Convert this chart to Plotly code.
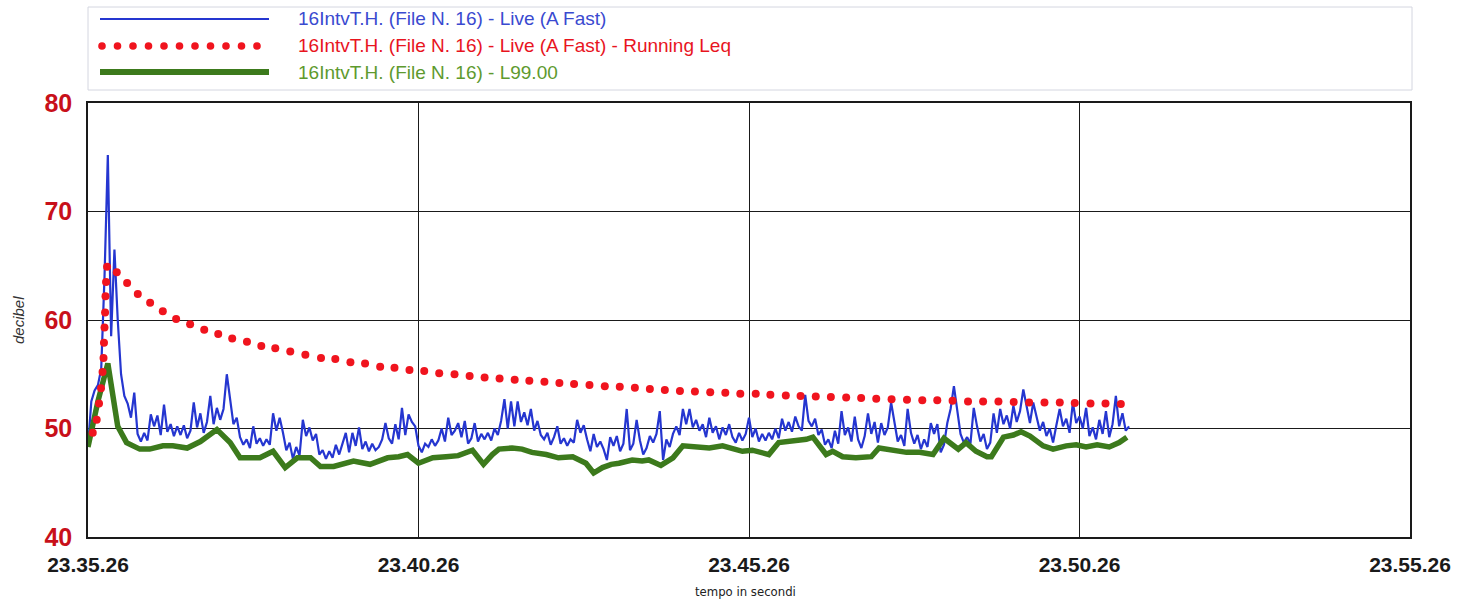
import plotly.graph_objects as go

# Colori
BLU = '#2536d0'
ROSSO = '#f0141e'
VERDE = '#3c7a1c'

# Asse x: secondi dall'inizio (23.35.26)
tick_sec = [0, 300, 600, 900, 1200]
tick_lbl = ['23.35.26', '23.40.26', '23.45.26', '23.50.26', '23.55.26']

# Live (A Fast), un campione ogni 3 s
passo_live = 3
live_db = [
    48.3, 52.5, 53.5, 54.0, 55.5, 64.0, 75.2, 58.5, 66.5, 60.0, 55.0, 53.0, 52.3, 51.0, 53.3, 49.5,
    48.8, 49.6, 48.9, 51.3, 50.2, 51.2, 49.4, 52.2, 49.7, 50.4, 49.3, 50.2, 49.4, 50.3, 49.1, 49.8,
    52.4, 50.1, 51.4, 49.6, 50.6, 53.0, 50.4, 51.9, 50.8, 51.8, 55.0, 52.5, 50.4, 51.0, 49.2, 48.5,
    49.0, 48.2, 50.2, 48.6, 49.1, 48.4, 49.0, 48.5, 51.4, 49.8, 51.0, 49.6, 48.0, 48.7, 47.2, 48.3,
    47.5, 50.8, 49.3, 50.1, 48.9, 49.5, 47.6, 48.0, 47.2, 47.9, 47.3, 48.5, 47.6, 48.6, 49.6, 47.8,
    49.6, 48.4, 50.1, 48.1, 48.8, 47.9, 48.6, 48.0, 48.3, 49.0, 50.5, 49.1, 48.6, 50.4, 49.0, 51.9,
    49.4, 51.3, 50.6, 50.2, 48.4, 47.8, 48.6, 48.3, 49.0, 48.4, 48.9, 50.0, 48.8, 51.0, 49.4, 49.8,
    50.5, 49.2, 50.7, 48.6, 49.1, 50.5, 48.8, 49.5, 49.0, 49.6, 48.9, 50.0, 49.4, 50.7, 52.7, 50.0,
    52.5, 50.2, 52.5, 50.6, 51.5, 50.3, 51.8, 49.8, 50.7, 49.4, 49.0, 49.6, 48.5, 49.2, 50.2, 48.6,
    49.1, 48.4, 49.0, 48.7, 50.8, 49.6, 50.3, 49.0, 47.9, 49.5, 48.3, 48.8, 48.1, 47.1, 49.2, 48.4,
    49.3, 47.9, 48.6, 51.8, 48.0, 48.6, 50.8, 48.9, 47.6, 48.2, 49.3, 48.7, 49.5, 51.6, 47.1, 49.0,
    48.3, 49.5, 50.2, 49.4, 51.8, 50.4, 51.8, 50.1, 50.8, 49.8, 50.4, 49.2, 51.0, 49.6, 50.2, 49.0,
    50.1, 49.4, 50.4, 49.2, 48.7, 49.6, 48.9, 49.5, 51.0, 49.2, 50.0, 48.8, 49.5, 48.9, 49.6, 49.0,
    50.0, 49.1, 50.9, 49.8, 50.6, 49.7, 51.1, 50.2, 49.8, 53.1, 50.7, 50.2, 50.9, 49.4, 49.9, 48.5,
    49.0, 48.2, 49.8, 48.6, 51.6, 49.4, 50.1, 48.8, 51.1, 49.0, 48.2, 49.3, 51.4, 49.5, 50.6, 48.7,
    50.5, 49.4, 50.1, 52.4, 50.6, 48.8, 49.4, 48.4, 51.8, 49.6, 48.6, 49.4, 48.1, 49.0, 48.3, 50.5,
    49.5, 50.4, 47.8, 48.5, 50.5, 51.8, 53.9, 51.6, 49.5, 48.7, 49.2, 48.6, 51.9, 50.2, 48.8, 49.5,
    48.1, 48.7, 51.4, 49.6, 51.8, 50.4, 51.2, 50.0, 52.1, 50.6, 51.6, 53.6, 51.9, 50.5, 52.4, 51.0,
    49.8, 50.6, 49.3, 50.0, 48.7, 50.3, 51.8, 50.2, 50.9, 49.6, 52.4, 50.5, 51.1, 50.0, 51.9, 49.3,
    50.1, 49.0, 50.8, 49.5, 51.6, 49.2, 50.4, 53.0, 50.2, 51.4, 49.8, 50.2,
]
live_sec = [passo_live * i for i in range(len(live_db))]

# Running Leq
leq_sec = [
    4.3, 7.9, 10.0, 11.8, 13.2, 14.1, 14.5, 15.0, 15.5, 15.9, 16.4, 17.3, 26.1, 35.5, 45.2, 56.4,
    67.9, 80.0, 92.7, 105.5, 118.2, 130.9, 144.3, 157.3, 170.0, 183.6, 197.3, 211.5, 224.5, 238.2,
    251.5, 265.2, 278.2, 291.8, 305.2, 318.8, 332.7, 346.4, 360.0, 373.6, 387.3, 400.6, 414.3,
    427.9, 441.2, 455.2, 469.1, 482.7, 496.4, 510.0, 523.6, 537.3, 550.9, 564.8, 578.5, 592.1,
    606.1, 619.4, 633.4, 646.8, 660.6, 674.3, 688.2, 701.8, 715.5, 729.4, 743.4, 757.3, 770.9,
    784.8, 798.8, 812.5, 826.4, 840.3, 854.3, 868.2, 882.1, 895.7, 910.0, 923.6, 937.5,
]
leq_db = [
    49.6, 50.8, 52.3, 53.7, 55.2, 56.5, 57.9, 59.3, 60.7, 62.2, 63.5, 64.9, 64.4, 63.4, 62.4, 61.6,
    60.8, 60.1, 59.6, 59.1, 58.7, 58.3, 58.0, 57.6, 57.4, 57.1, 56.8, 56.5, 56.4, 56.1,
    56.0, 55.7, 55.6, 55.4, 55.3, 55.1, 55.0, 54.85, 54.7, 54.6, 54.5, 54.4, 54.3,
    54.2, 54.1, 54.0, 53.9, 53.85, 53.75, 53.65, 53.55, 53.45, 53.4, 53.35, 53.3, 53.2,
    53.2, 53.1, 53.05, 53.0, 52.95, 52.9, 52.85, 52.8, 52.75, 52.7, 52.65, 52.6, 52.6,
    52.55, 52.5, 52.5, 52.5, 52.45, 52.4, 52.4, 52.4, 52.35, 52.3, 52.3, 52.25,
]

# L99.00
l99_sec = [
    0, 9, 18, 27, 35, 47, 56, 68, 77, 90, 102, 117, 129, 138, 156, 168, 179, 190, 202, 211,
    223, 241, 256, 272, 282, 290, 300, 313, 325, 336, 349, 359, 367, 373, 385, 394, 403, 416,
    427, 440, 452, 459, 467, 475, 482, 494, 503, 509, 520, 531, 540, 552, 564, 576, 585, 594,
    603, 613, 618, 627, 640, 652, 658, 664, 670, 676, 685, 697, 711, 718, 731, 743, 755, 767,
    777, 784, 790, 797, 806, 816, 820, 831, 840, 847, 855, 867, 876, 888, 897, 906, 916, 927,
    936, 943,
]
l99_db = [
    48.3, 52.5, 56.0, 50.2, 48.7, 48.1, 48.1, 48.4, 48.4, 48.2, 48.8, 49.9, 48.7, 47.3, 47.3,
    47.9, 46.4, 47.3, 47.3, 46.5, 46.5, 47.0, 46.7, 47.3, 47.4, 47.6, 46.8, 47.3, 47.4, 47.5,
    48.0, 46.7, 47.6, 48.1, 48.2, 48.1, 47.8, 47.6, 47.3, 47.4, 46.8, 45.9, 46.4, 46.7, 46.8,
    47.1, 47.0, 47.1, 46.6, 47.3, 48.4, 48.3, 48.2, 48.4, 48.1, 47.9, 48.0, 47.8, 47.6, 48.7,
    48.8, 49.0, 49.2, 48.4, 47.6, 47.9, 47.4, 47.3, 47.4, 48.2, 48.0, 47.8, 47.8, 47.6, 49.1,
    48.5, 48.1, 48.7, 47.9, 47.4, 47.4, 49.2, 49.4, 49.7, 49.3, 48.4, 48.1, 48.4, 48.5, 48.3,
    48.5, 48.3, 48.7, 49.2,
]

nome = '16IntvT.H. (File N. 16)'
voci_legenda = [
    (nome + ' - Live (A Fast)', '#3a4ad0'),
    (nome + ' - Live (A Fast) - Running Leq', '#e8141e'),
    (nome + ' - L99.00', '#5e9a2e'),
]

fig = go.Figure()

fig.add_trace(go.Scatter(
    x=live_sec, y=live_db, mode='lines',
    line=dict(color=BLU, width=2.2),
    showlegend=False, hoverinfo='skip'
))
fig.add_trace(go.Scatter(
    x=l99_sec, y=l99_db, mode='lines',
    line=dict(color=VERDE, width=5.5),
    showlegend=False, hoverinfo='skip'
))
fig.add_trace(go.Scatter(
    x=leq_sec, y=leq_db, mode='markers',
    marker=dict(color=ROSSO, size=8, line=dict(width=0)),
    showlegend=False, hoverinfo='skip'
))

# Legenda disegnata a mano (riquadro in alto)
L, R, T, B = 88, 1410, 103, 537
def px_x(p):
    return (p - L) / (R - L)
def px_y(p):
    return (B - p) / (B - T)

forme = [dict(type='rect', xref='paper', yref='paper',
              x0=px_x(88), x1=px_x(1412), y0=px_y(90), y1=px_y(7),
              line=dict(color='#d4d6e0', width=1), fillcolor='white', layer='below')]
righe_y = [19, 46, 72]
forme.append(dict(type='line', xref='paper', yref='paper',
                  x0=px_x(100), x1=px_x(269), y0=px_y(righe_y[0]), y1=px_y(righe_y[0]),
                  line=dict(color=BLU, width=2)))
forme.append(dict(type='line', xref='paper', yref='paper',
                  x0=px_x(100), x1=px_x(269), y0=px_y(righe_y[2]), y1=px_y(righe_y[2]),
                  line=dict(color=VERDE, width=6)))
for k in range(11):
    cx = 102 + 15.5 * k
    forme.append(dict(type='circle', xref='paper', yref='paper',
                      xsizemode='pixel', ysizemode='pixel',
                      xanchor=px_x(cx), yanchor=px_y(righe_y[1]),
                      x0=-3.8, x1=3.8, y0=-3.8, y1=3.8,
                      fillcolor=ROSSO, line=dict(width=0)))

note = []
for (testo, col), yy in zip(voci_legenda, righe_y):
    note.append(dict(text=testo, x=px_x(296), y=px_y(yy), xref='paper', yref='paper',
                     xanchor='left', yanchor='middle', showarrow=False,
                     font=dict(family='Liberation Sans, Arial', size=19, color=col)))
note.append(dict(text='decibel', x=px_x(18), y=px_y(320), xref='paper', yref='paper',
                 textangle=-90, showarrow=False, xanchor='center', yanchor='middle',
                 font=dict(family='Liberation Sans, Arial', size=15, color='#333333',
                           style='italic')))
note.append(dict(text='tempo in secondi', x=px_x(745), y=px_y(591), xref='paper', yref='paper',
                 showarrow=False, xanchor='center', yanchor='middle',
                 font=dict(family='DejaVu Sans Condensed, Liberation Sans, Arial',
                           size=13, color='#222222')))

fig.update_layout(
    width=1470, height=602,
    margin=dict(l=L, r=1470 - R, t=T, b=602 - B),
    paper_bgcolor='white', plot_bgcolor='white',
    showlegend=False,
    shapes=forme, annotations=note,
    xaxis=dict(
        range=[0, 1200], tickvals=tick_sec, ticktext=tick_lbl,
        showgrid=True, gridcolor='#1a1a1a', gridwidth=1.4,
        showline=True, linecolor='#1a1a1a', linewidth=1.6, mirror=True,
        zeroline=False, ticks='', ticklabelstandoff=8,
        tickfont=dict(family='Liberation Sans, Arial', size=21, color='#1a1a1a', weight='bold'),
    ),
    yaxis=dict(
        range=[40, 80], dtick=10,
        showgrid=True, gridcolor='#1a1a1a', gridwidth=1.4,
        showline=True, linecolor='#1a1a1a', linewidth=1.6, mirror=True,
        zeroline=False, ticks='', ticklabelstandoff=9,
        tickfont=dict(family='Liberation Sans, Arial', size=25, color='#c8101a', weight='bold'),
    ),
)

fig.write_html('out.html',
               config={'displayModeBar': False},
               post_script="document.body.style.margin='0';document.body.style.padding='0';")
